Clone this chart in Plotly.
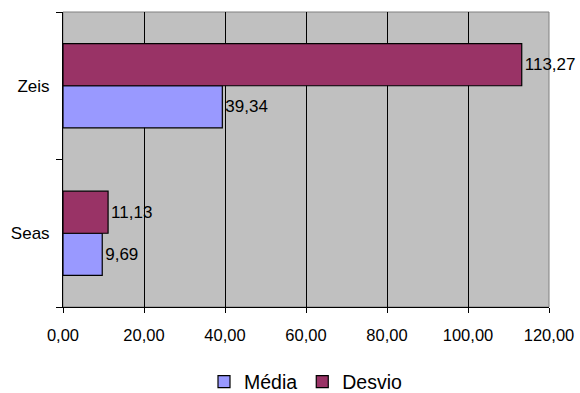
import plotly.graph_objects as go

# Categories and series values
categorias = ["Seas", "Zeis"]
media = [9.69, 39.34]
desvio = [11.13, 113.27]
x_ticks = [0, 20, 40, 60, 80, 100, 120]

FONT = "Liberation Sans, Arial, sans-serif"

fig = go.Figure()

fig.add_trace(go.Bar(
    name="Média",
    y=categorias,
    x=media,
    orientation="h",
    marker=dict(color="#9999FF", line=dict(color="#000000", width=1.2)),
    texttemplate="%{x:.2f}",
    textposition="outside",
    textfont=dict(family=FONT, size=17, color="#000000"),
    cliponaxis=False,
))

fig.add_trace(go.Bar(
    name="Desvio",
    y=categorias,
    x=desvio,
    orientation="h",
    marker=dict(color="#993366", line=dict(color="#000000", width=1.2)),
    texttemplate="%{x:.2f}",
    textposition="outside",
    textfont=dict(family=FONT, size=17, color="#000000"),
    cliponaxis=False,
))

fig.update_layout(
    width=580,
    height=393,
    margin=dict(l=63, r=31, t=12, b=86, autoexpand=False),
    paper_bgcolor="#FFFFFF",
    plot_bgcolor="#C0C0C0",
    separators=",.",
    barmode="group",
    bargap=0.43,
    bargroupgap=0,
    font=dict(family=FONT, size=16, color="#000000"),
    showlegend=True,
    legend=dict(
        orientation="h",
        x=0.5, xanchor="center",
        yref="container",
        y=0.028, yanchor="middle",
        font=dict(size=19.5),
        itemwidth=30,
        traceorder="normal",
        bgcolor="rgba(0,0,0,0)",
    ),
    shapes=[dict(
        type="rect", xref="paper", yref="paper",
        x0=0, x1=1, y0=0, y1=1,
        line=dict(color="#808080", width=1),
        layer="below",
    )],
)

fig.update_xaxes(
    range=[0, 120],
    tickvals=x_ticks,
    tickformat=".2f",
    showgrid=True, gridcolor="#000000", gridwidth=1,
    showline=True, linecolor="#000000", linewidth=1,
    ticks="outside", ticklen=5, tickcolor="#000000",
    tickfont=dict(size=16.5),
    ticklabelstandoff=8,
    zeroline=False,
    automargin=False,
    fixedrange=True,
)

fig.update_yaxes(
    categoryorder="array", categoryarray=categorias,
    tickson="boundaries",
    showgrid=False,
    showline=True, linecolor="#000000", linewidth=1,
    ticks="outside", ticklen=6, tickcolor="#000000",
    tickfont=dict(size=17),
    ticklabelstandoff=9,
    automargin=False,
    fixedrange=True,
)

fig.update_traces(constraintext="none")

fig.write_html("out.html")
